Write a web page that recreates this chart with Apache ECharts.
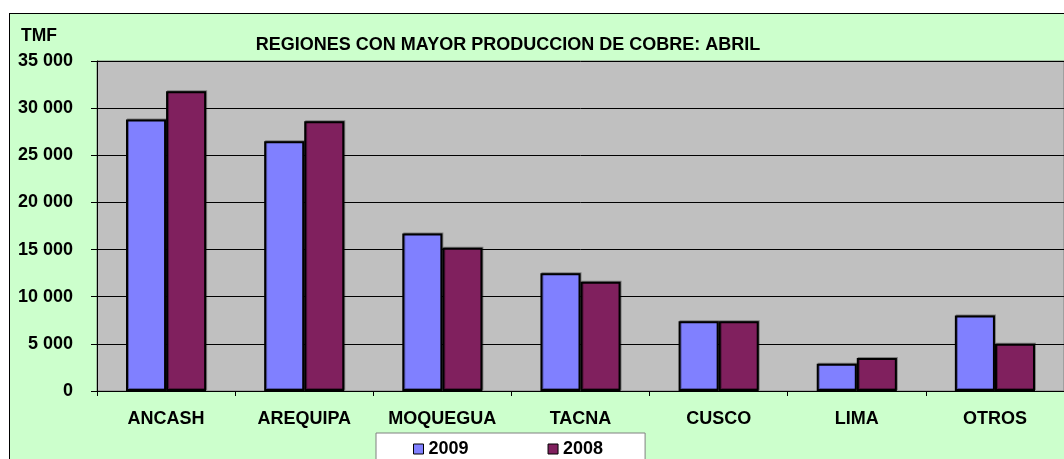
<!DOCTYPE html>
<html>
<head>
<meta charset="utf-8">
<script src="https://cdn.jsdelivr.net/npm/echarts@6/dist/echarts.min.js"></script>
<style>
  html, body { margin: 0; padding: 0; background: #fff; }
  #wrap { position: relative; width: 1064px; height: 459px; overflow: hidden; }
  #box { position: absolute; left: 9px; top: 13px; width: 1100px; height: 500px;
         background: #ccffcc; border: 1px solid #000; }
  #chart { position: absolute; left: 0; top: 0; width: 1064px; height: 459px; }
</style>
</head>
<body>
<div id="wrap">
  <div id="box"></div>
  <div id="chart"></div>
</div>
<script>
var regiones = ['ANCASH', 'AREQUIPA', 'MOQUEGUA', 'TACNA', 'CUSCO', 'LIMA', 'OTROS'];
var valores2009 = [28800, 26500, 16700, 12500, 7400, 2900, 8000];
var valores2008 = [31800, 28600, 15200, 11600, 7400, 3500, 5000];
var ticksY = [0, 5000, 10000, 15000, 20000, 25000, 30000, 35000];

var fuente = 'Liberation Sans, Arial, sans-serif';

function miles(v) {
    return String(v).replace(/\B(?=(\d{3})+(?!\d))/g, ' ');
}

var option = {
    animation: false,
    backgroundColor: 'transparent',
    textStyle: { fontFamily: fuente },
    title: [{
        text: 'REGIONES CON MAYOR PRODUCCION DE COBRE: ABRIL',
        left: 503,
        top: 31,
        textAlign: 'center',
        textStyle: { fontSize: 18, fontWeight: 'bold', color: '#000', fontFamily: fuente }
    }, {
        text: 'TMF',
        left: 16,
        top: 22,
        textStyle: { fontSize: 17.5, fontWeight: 'bold', color: '#000', fontFamily: fuente }
    }],
    legend: {
        left: 376,
        top: 433,
        padding: [7, 42, 12, 37],
        itemGap: 79,
        itemWidth: 10,
        itemHeight: 10,
        icon: 'rect',
        backgroundColor: '#fff',
        borderColor: '#808080',
        borderWidth: 1,
        textStyle: { fontSize: 18, fontWeight: 'bold', color: '#000', fontFamily: fuente },
        itemStyle: { borderColor: '#000', borderWidth: 1 },
        data: ['2009', '2008']
    },
    grid: {
        left: 97,
        top: 61,
        width: 980,
        height: 330,
        show: true,
        backgroundColor: '#c0c0c0',
        borderColor: '#808080',
        borderWidth: 1
    },
    xAxis: {
        type: 'category',
        data: regiones,
        axisLine: { lineStyle: { color: '#000', width: 1 } },
        axisTick: { show: true, length: 5, lineStyle: { color: '#000' } },
        axisLabel: {
            interval: 0,
            margin: 19,
            fontSize: 18,
            fontWeight: 'bold',
            color: '#000',
            fontFamily: fuente
        }
    },
    yAxis: {
        type: 'value',
        min: ticksY[0],
        max: ticksY[ticksY.length - 1],
        interval: 5000,
        axisLine: { show: true, lineStyle: { color: '#000', width: 1 } },
        axisTick: { show: true, length: 6, lineStyle: { color: '#000' } },
        splitLine: { lineStyle: { color: '#000', width: 1 } },
        axisLabel: {
            margin: 24,
            fontSize: 18,
            fontWeight: 'bold',
            color: '#000',
            fontFamily: fuente,
            formatter: miles
        }
    },
    series: [{
        name: '2009',
        type: 'bar',
        data: valores2009,
        barGap: '0%',
        barCategoryGap: '42%',
        itemStyle: {
            color: '#8080ff',
            borderColor: '#000',
            borderWidth: 2,
            shadowColor: 'rgba(0,0,0,0.35)',
            shadowOffsetX: 1,
            shadowOffsetY: -1
        }
    }, {
        name: '2008',
        type: 'bar',
        data: valores2008,
        barGap: '0%',
        barCategoryGap: '42%',
        itemStyle: {
            color: '#80205e',
            borderColor: '#000',
            borderWidth: 2,
            shadowColor: 'rgba(0,0,0,0.35)',
            shadowOffsetX: 1,
            shadowOffsetY: -1
        }
    }]
};

var myChart = echarts.init(document.getElementById('chart'));
myChart.setOption(option);
</script>
</body>
</html>
